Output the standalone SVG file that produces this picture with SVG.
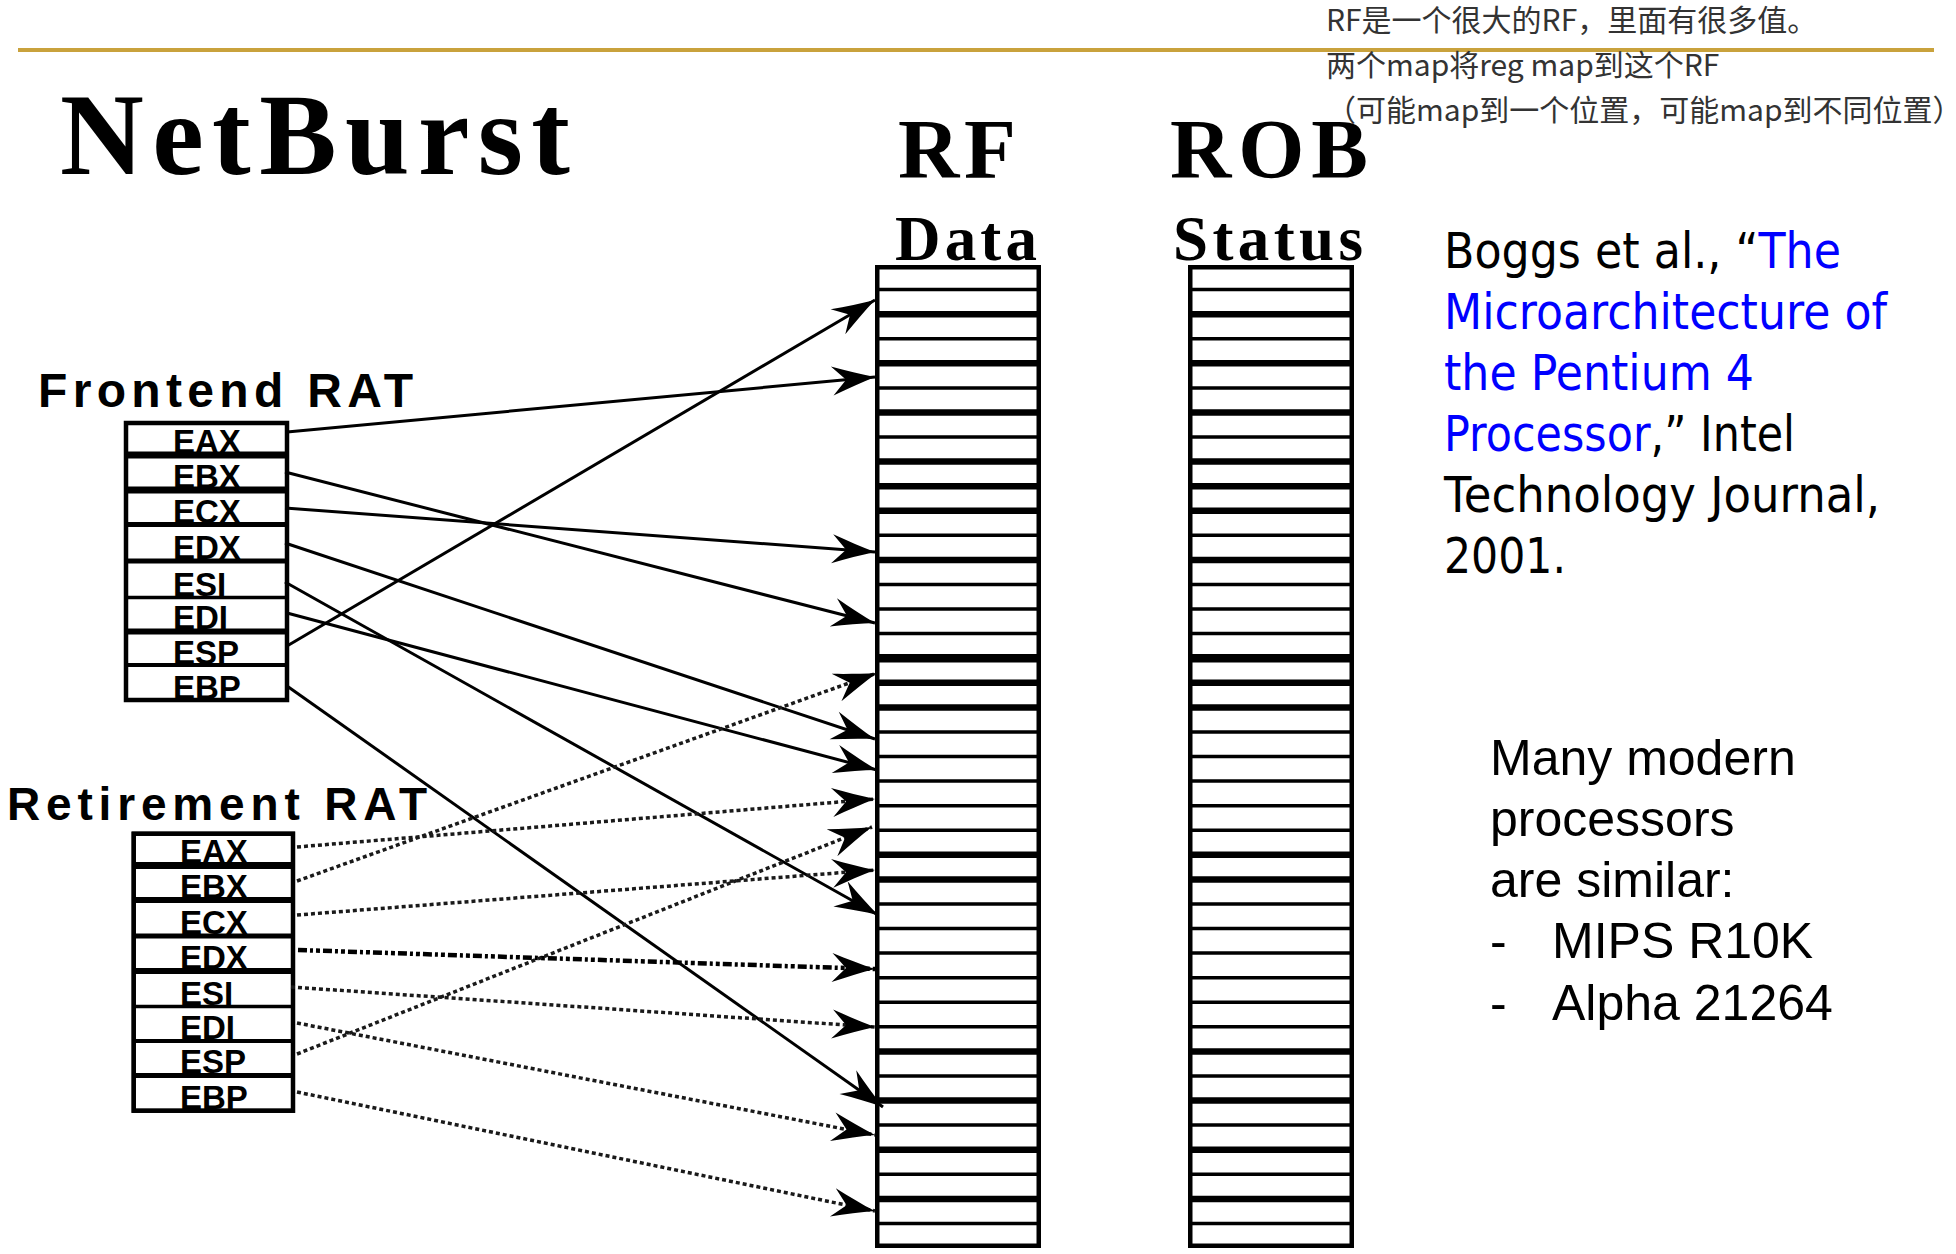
<svg xmlns="http://www.w3.org/2000/svg" xmlns:xlink="http://www.w3.org/1999/xlink" width="1956" height="1254" viewBox="0 0 1956 1254">
<style>
.serif{font-family:"Liberation Serif","Times New Roman",serif;font-weight:bold;fill:#000}
.hdr{font-family:"Liberation Sans",Arial,sans-serif;font-weight:bold;fill:#000}
.reg{font-family:"Liberation Sans",Arial,sans-serif;font-weight:bold;font-size:33px;fill:#000}
.cite{font-family:"DejaVu Sans",Verdana,sans-serif;font-size:50px;fill:#000}
.blue{fill:#0000FF}
.note{font-family:"Liberation Sans",Arial,sans-serif;font-size:50px;fill:#000}
.cn{font-family:"Noto Sans CJK SC","Noto Sans",sans-serif;font-size:30px;fill:#333}
.frame{fill:#fff;stroke:#000;stroke-width:4.5}
.sep{stroke:#000;stroke-width:3.5}
.sepT{stroke:#000;stroke-width:6.5}
.sepV{stroke:#000;stroke-width:8.5}
.solid{fill:none;stroke:#000;stroke-width:3;marker-end:url(#ah)}
.dot{fill:none;stroke:#1a1a1a;stroke-width:3.5;stroke-dasharray:4 3;marker-end:url(#ah)}
.dotH{fill:none;stroke:#000;stroke-width:4.5;stroke-dasharray:9 3 3 3 4 3;marker-end:url(#ah)}
</style>
<defs>
<marker id="ah" viewBox="-46 -16 48 32" refX="0" refY="0" markerWidth="48" markerHeight="32" markerUnits="userSpaceOnUse" orient="auto" overflow="visible">
<path d="M0,0 C-14,-4 -28,-9 -43,-14.5 L-29,0 L-43,14.5 C-28,9 -14,4 0,0 Z" fill="#000"/>
</marker>
<g id="stack">
<rect class="frame" x="2.25" y="267.25" width="161.5" height="978.5"/>
<line class="sep" x1="2" x2="164" y1="289.6" y2="289.6"/>
<line class="sepT" x1="2" x2="164" y1="314.2" y2="314.2"/>
<line class="sep" x1="2" x2="164" y1="338.7" y2="338.7"/>
<line class="sepT" x1="2" x2="164" y1="363.3" y2="363.3"/>
<line class="sep" x1="2" x2="164" y1="387.9" y2="387.9"/>
<line class="sepT" x1="2" x2="164" y1="412.5" y2="412.5"/>
<line class="sep" x1="2" x2="164" y1="437.0" y2="437.0"/>
<line class="sepT" x1="2" x2="164" y1="461.6" y2="461.6"/>
<line class="sepT" x1="2" x2="164" y1="486.2" y2="486.2"/>
<line class="sepT" x1="2" x2="164" y1="510.8" y2="510.8"/>
<line class="sep" x1="2" x2="164" y1="535.3" y2="535.3"/>
<line class="sepT" x1="2" x2="164" y1="559.9" y2="559.9"/>
<line class="sep" x1="2" x2="164" y1="584.5" y2="584.5"/>
<line class="sep" x1="2" x2="164" y1="609.1" y2="609.1"/>
<line class="sep" x1="2" x2="164" y1="633.6" y2="633.6"/>
<line class="sepV" x1="2" x2="164" y1="658.2" y2="658.2"/>
<line class="sepT" x1="2" x2="164" y1="682.8" y2="682.8"/>
<line class="sepT" x1="2" x2="164" y1="707.4" y2="707.4"/>
<line class="sep" x1="2" x2="164" y1="731.9" y2="731.9"/>
<line class="sep" x1="2" x2="164" y1="756.5" y2="756.5"/>
<line class="sep" x1="2" x2="164" y1="781.1" y2="781.1"/>
<line class="sep" x1="2" x2="164" y1="805.7" y2="805.7"/>
<line class="sep" x1="2" x2="164" y1="830.2" y2="830.2"/>
<line class="sepT" x1="2" x2="164" y1="854.8" y2="854.8"/>
<line class="sepT" x1="2" x2="164" y1="879.4" y2="879.4"/>
<line class="sep" x1="2" x2="164" y1="904.0" y2="904.0"/>
<line class="sep" x1="2" x2="164" y1="928.5" y2="928.5"/>
<line class="sep" x1="2" x2="164" y1="953.1" y2="953.1"/>
<line class="sep" x1="2" x2="164" y1="977.7" y2="977.7"/>
<line class="sep" x1="2" x2="164" y1="1002.3" y2="1002.3"/>
<line class="sep" x1="2" x2="164" y1="1026.8" y2="1026.8"/>
<line class="sepT" x1="2" x2="164" y1="1051.4" y2="1051.4"/>
<line class="sep" x1="2" x2="164" y1="1076.0" y2="1076.0"/>
<line class="sepT" x1="2" x2="164" y1="1100.6" y2="1100.6"/>
<line class="sep" x1="2" x2="164" y1="1125.1" y2="1125.1"/>
<line class="sepT" x1="2" x2="164" y1="1149.7" y2="1149.7"/>
<line class="sep" x1="2" x2="164" y1="1174.3" y2="1174.3"/>
<line class="sepT" x1="2" x2="164" y1="1198.9" y2="1198.9"/>
<line class="sep" x1="2" x2="164" y1="1223.4" y2="1223.4"/>
</g>
</defs>
<rect width="1956" height="1254" fill="#fff"/>

<g id="header-rule">
<line x1="18" y1="50" x2="1934" y2="50" stroke="#C9A23C" stroke-width="4"/>
</g>

<g id="cn-note">
<text class="cn" x="1326" y="31">RF是一个很大的RF，里面有很多值。</text>
<text class="cn" x="1326" y="76">两个map将reg map到这个RF</text>
<text class="cn" x="1326" y="121">（可能map到一个位置，可能map到不同位置）</text>
</g>

<g id="title">
<text class="serif" x="60" y="174" font-size="116" textLength="510" lengthAdjust="spacing">NetBurst</text>
</g>

<g id="rf">
<text class="serif" x="898" y="178" font-size="85" textLength="118" lengthAdjust="spacing">RF</text>
<text class="serif" x="895" y="260" font-size="63" textLength="142" lengthAdjust="spacing">Data</text>
<use xlink:href="#stack" href="#stack" x="875" y="0"/>
</g>

<g id="rob">
<text class="serif" x="1170" y="178" font-size="85" textLength="198" lengthAdjust="spacing">ROB</text>
<text class="serif" x="1173" y="260" font-size="63" textLength="190" lengthAdjust="spacing">Status</text>
<use xlink:href="#stack" href="#stack" x="1188" y="0"/>
</g>

<g id="frontend-rat">
<text class="hdr" x="38" y="407" font-size="48" textLength="375" lengthAdjust="spacing">Frontend RAT</text>
<rect class="frame" x="126" y="423" width="161" height="277" stroke-width="4"/>
<text class="reg" x="173" y="453">EAX</text>
<text class="reg" x="173" y="488">EBX</text>
<text class="reg" x="173" y="523">ECX</text>
<text class="reg" x="173" y="559">EDX</text>
<text class="reg" x="173" y="596">ESI</text>
<text class="reg" x="173" y="629">EDI</text>
<text class="reg" x="173" y="664">ESP</text>
<text class="reg" x="173" y="699">EBP</text>
<line stroke="#000" stroke-width="7" x1="126" x2="287" y1="455" y2="455"/>
<line stroke="#000" stroke-width="7" x1="126" x2="287" y1="490" y2="490"/>
<line stroke="#000" stroke-width="5" x1="126" x2="287" y1="524.5" y2="524.5"/>
<line stroke="#000" stroke-width="5" x1="126" x2="287" y1="561" y2="561"/>
<line stroke="#000" stroke-width="3.5" x1="126" x2="287" y1="597.5" y2="597.5"/>
<line stroke="#000" stroke-width="6" x1="126" x2="287" y1="631.5" y2="631.5"/>
<line stroke="#000" stroke-width="4" x1="126" x2="287" y1="665" y2="665"/>
<rect x="126" y="423" width="161" height="277" fill="none" stroke="#000" stroke-width="4"/>
</g>

<g id="retirement-rat">
<text class="hdr" x="7" y="820" font-size="46" textLength="420" lengthAdjust="spacing">Retirement RAT</text>
<rect class="frame" x="133.7" y="833.7" width="159.3" height="277" stroke-width="4"/>
<text class="reg" x="180" y="863">EAX</text>
<text class="reg" x="180" y="898">EBX</text>
<text class="reg" x="180" y="934">ECX</text>
<text class="reg" x="180" y="969">EDX</text>
<text class="reg" x="180" y="1005">ESI</text>
<text class="reg" x="180" y="1039">EDI</text>
<text class="reg" x="180" y="1073">ESP</text>
<text class="reg" x="180" y="1109">EBP</text>
<line stroke="#000" stroke-width="7" x1="134" x2="293" y1="865.5" y2="865.5"/>
<line stroke="#000" stroke-width="6" x1="134" x2="293" y1="900" y2="900"/>
<line stroke="#000" stroke-width="5" x1="134" x2="293" y1="936" y2="936"/>
<line stroke="#000" stroke-width="6" x1="134" x2="293" y1="971" y2="971"/>
<line stroke="#000" stroke-width="3.5" x1="134" x2="293" y1="1006.5" y2="1006.5"/>
<line stroke="#000" stroke-width="4" x1="134" x2="293" y1="1041" y2="1041"/>
<line stroke="#000" stroke-width="5" x1="134" x2="293" y1="1075.5" y2="1075.5"/>
<rect x="133.7" y="833.7" width="159.3" height="277" fill="none" stroke="#000" stroke-width="4"/>
</g>

<g id="connectors">
<line class="solid" x1="287" y1="432" x2="875" y2="377"/>
<line class="solid" x1="285" y1="472" x2="875" y2="623"/>
<line class="solid" x1="285" y1="508" x2="875" y2="552"/>
<line class="solid" x1="285" y1="543" x2="875" y2="739"/>
<line class="solid" x1="285" y1="582" x2="878" y2="915"/>
<line class="solid" x1="287" y1="613" x2="877" y2="770"/>
<line class="solid" x1="287" y1="646" x2="875" y2="300"/>
<line class="solid" x1="287" y1="686" x2="883" y2="1107"/>
<line class="dot" x1="297" y1="847" x2="875" y2="799"/>
<line class="dot" x1="297" y1="881" x2="877" y2="673"/>
<line class="dot" x1="297" y1="915" x2="875" y2="870"/>
<line class="dotH" x1="298" y1="950" x2="875" y2="969"/>
<line class="dot" x1="291" y1="987" x2="875" y2="1027"/>
<line class="dot" x1="297" y1="1023" x2="875" y2="1135"/>
<line class="dot" x1="297" y1="1054" x2="872" y2="827"/>
<line class="dot" x1="297" y1="1092" x2="875" y2="1211"/>
</g>

<g id="citation">
<text class="cite" x="1444" y="268" textLength="397" lengthAdjust="spacingAndGlyphs">Boggs et al., “<tspan class="blue">The</tspan></text>
<text class="cite blue" x="1444" y="329" textLength="443" lengthAdjust="spacingAndGlyphs">Microarchitecture of</text>
<text class="cite blue" x="1444" y="390" textLength="310" lengthAdjust="spacingAndGlyphs">the Pentium 4</text>
<text class="cite" x="1444" y="451" textLength="351" lengthAdjust="spacingAndGlyphs"><tspan class="blue">Processor</tspan>,” Intel</text>
<text class="cite" x="1444" y="512" textLength="436" lengthAdjust="spacingAndGlyphs">Technology Journal,</text>
<text class="cite" x="1444" y="573" textLength="122" lengthAdjust="spacingAndGlyphs">2001.</text>
</g>

<g id="note">
<text class="note" x="1490" y="775">Many modern</text>
<text class="note" x="1490" y="836">processors</text>
<text class="note" x="1490" y="897">are similar:</text>
<text class="note" x="1490" y="958">-</text>
<text class="note" x="1552" y="958">MIPS R10K</text>
<text class="note" x="1490" y="1020">-</text>
<text class="note" x="1552" y="1020">Alpha 21264</text>
</g>
</svg>
